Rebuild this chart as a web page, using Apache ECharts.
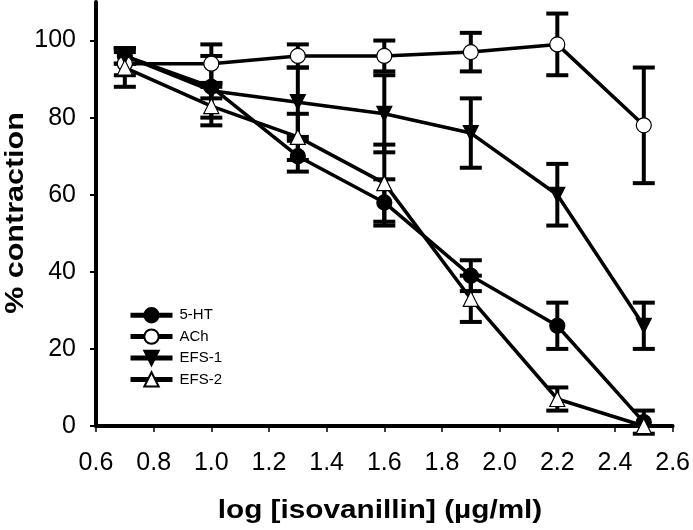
<!DOCTYPE html>
<html>
<head>
<meta charset="utf-8">
<script src="https://cdn.jsdelivr.net/npm/echarts@6/dist/echarts.min.js"></script>
<style>html,body{margin:0;padding:0;background:#fff;}#c{width:693px;height:530px;}</style>
</head>
<body>
<div id="c"></div>
<script>
var xVals = [0.7, 1.0, 1.3, 1.6, 1.9, 2.2, 2.5];
var ht5 = [96, 88, 70, 58, 39, 26, 1];
var ht5Err = [2, 8, 4, 6, 4, 6, 3];
var ach = [94, 94, 96, 96, 97, 99, 78];
var achErr = [3, 5, 3, 4, 5, 8, 15];
var efs1 = [96, 87, 84, 81, 76, 60, 26];
var efs1Err = [2, 2, 9, 10, 9, 8, 6];
var efs2 = [93, 83, 75, 63, 33, 7, 0];
var efs2Err = [5, 5, 6, 10, 6, 3, 0];
var yTicks = [0, 20, 40, 60, 80, 100];
var seriesNames = ['5-HT', 'ACh', 'EFS-1', 'EFS-2'];
var xTitle = 'log [isovanillin] (µg/ml)';
var yTitle = '% contraction';

var FONT = 'Liberation Sans, Arial, sans-serif';
var chart = echarts.init(document.getElementById('c'));

function pairs(ys) { return xVals.map(function (x, i) { return [x, ys[i]]; }); }
function errs(ys, es) {
  var out = [];
  xVals.forEach(function (x, i) { if (es[i] > 0) out.push([x, ys[i] - es[i], ys[i] + es[i]]); });
  return out;
}
var errData = [].concat(errs(ht5, ht5Err), errs(ach, achErr), errs(efs1, efs1Err), errs(efs2, efs2Err));

function lineSeries(name, ys, symbol, fill, rotate) {
  return {
    name: name, type: 'line', data: pairs(ys), z: 5,
    symbol: symbol, symbolSize: 15, symbolRotate: rotate || 0,
    lineStyle: { color: '#000', width: 3.5 },
    itemStyle: { color: fill, borderColor: '#000', borderWidth: 1.2 },
    emphasis: { disabled: true }
  };
}

chart.setOption({
  animation: false,
  grid: { left: 96, right: 18, top: 2, bottom: 104 },
  legend: {
    orient: 'vertical', left: 123, top: 302, itemWidth: 42, itemHeight: 18, itemGap: 5,
    data: seriesNames,
    lineStyle: { width: 5, color: '#000' },
    textStyle: { fontFamily: FONT, fontSize: 15, color: '#000', padding: [0, 0, 0, 2] }
  },
  graphic: [
    { type: 'text', x: 380, y: 511, scaleX: 1.19, silent: true,
      style: { text: xTitle, font: 'bold 25px ' + FONT, fill: '#000', align: 'center', verticalAlign: 'middle' } },
    { type: 'text', x: 16, y: 213, rotation: Math.PI / 2, scaleX: 1.22, silent: true,
      style: { text: yTitle, font: 'bold 25px ' + FONT, fill: '#000', align: 'center', verticalAlign: 'middle' } }
  ],
  xAxis: {
    type: 'value', min: 0.6, max: 2.6, interval: 0.2,
    axisLine: { lineStyle: { color: '#000', width: 4 } },
    axisTick: { length: 6, lineStyle: { color: '#000', width: 1.5 } },
    axisLabel: { fontFamily: FONT, fontSize: 25, color: '#000', margin: 25,
      formatter: function (v) { return v.toFixed(1); } },
    splitLine: { show: false }
  },
  yAxis: {
    type: 'value', min: 0, max: 110, interval: 20,
    axisLine: { lineStyle: { color: '#000', width: 4 } },
    axisTick: { length: 6, customValues: yTicks, lineStyle: { color: '#000', width: 2 } },
    axisLabel: { fontFamily: FONT, fontSize: 25, color: '#000', margin: 20, customValues: yTicks },
    splitLine: { show: false }
  },
  series: [
    {
      type: 'custom', z: 3, data: errData, silent: true,
      renderItem: function (params, api) {
        var x = api.value(0);
        var lo = api.coord([x, api.value(1)]);
        var hi = api.coord([x, api.value(2)]);
        var hw = 11;
        var st = { stroke: '#000', lineWidth: 4, fill: null };
        return { type: 'group', children: [
          { type: 'line', shape: { x1: lo[0], y1: lo[1], x2: hi[0], y2: hi[1] }, style: st },
          { type: 'line', shape: { x1: lo[0] - hw, y1: lo[1], x2: lo[0] + hw, y2: lo[1] }, style: st },
          { type: 'line', shape: { x1: hi[0] - hw, y1: hi[1], x2: hi[0] + hw, y2: hi[1] }, style: st }
        ] };
      }
    },
    lineSeries('5-HT', ht5, 'circle', '#000'),
    lineSeries('ACh', ach, 'circle', '#fff'),
    lineSeries('EFS-1', efs1, 'triangle', '#000', 180),
    lineSeries('EFS-2', efs2, 'triangle', '#fff')
  ]
});
</script>
</body>
</html>
